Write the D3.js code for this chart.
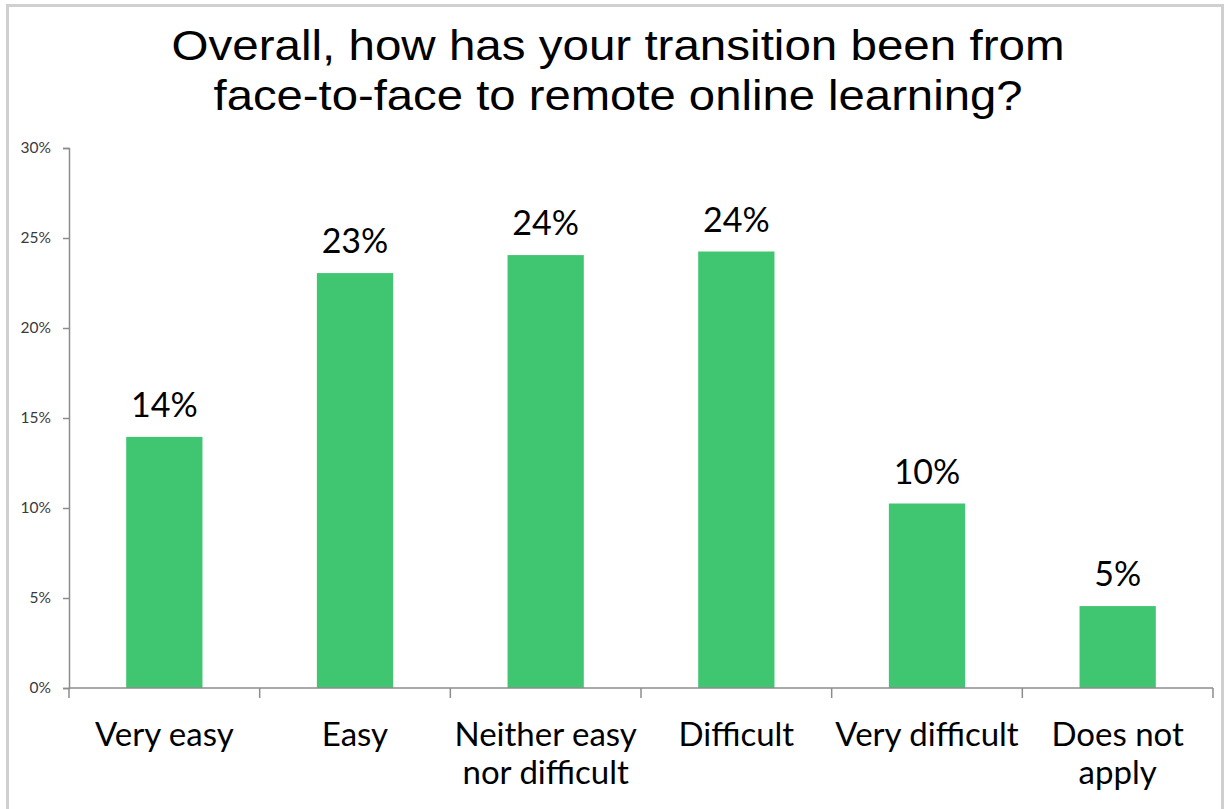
<!DOCTYPE html>
<html>
<head>
<meta charset="utf-8">
<script src="https://cdn.jsdelivr.net/npm/d3@7"></script>
<style>
  html, body { margin: 0; padding: 0; background: #fff; }
  svg { display: block; }
</style>
</head>
<body>
<div id="chart"></div>
<script>
// chart data
const categories = [["Very easy"], ["Easy"], ["Neither easy", "nor difficult"], ["Difficult"], ["Very difficult"], ["Does not", "apply"]];
const values = [13.95, 23.05, 24.05, 24.25, 10.25, 4.55];
const valueLabels = ["14%", "23%", "24%", "24%", "10%", "5%"];
const yTicks = [0, 5, 10, 15, 20, 25, 30];
const titleLines = ["Overall, how has your transition been from", "face-to-face to remote online learning?"];
const titleWidths = [893, 809];

const width = 1225, height = 809;
const margin = { top: 148, right: 12, bottom: 121, left: 69 };

const svg = d3.select("#chart").append("svg")
  .attr("width", width)
  .attr("height", height);

// outer frame
svg.append("rect")
  .attr("x", 7.5).attr("y", 5.5)
  .attr("width", 1215).attr("height", 820)
  .attr("fill", "none")
  .attr("stroke", "#d0d0d0")
  .attr("stroke-width", 3);

svg.append("g")
  .selectAll("text")
  .data(titleLines)
  .join("text")
  .attr("x", 618)
  .attr("y", (d, i) => 60 + i * 50)
  .attr("text-anchor", "middle")
  .attr("font-family", "Liberation Sans, Arial, sans-serif")
  .attr("font-size", 43)
  .attr("textLength", (d, i) => titleWidths[i])
  .attr("lengthAdjust", "spacingAndGlyphs")
  .attr("fill", "#000")
  .text(d => d);

const x = d3.scaleBand()
  .domain(d3.range(categories.length))
  .range([margin.left, width - margin.right])
  .paddingInner(0.6)
  .paddingOuter(0.3);

const y = d3.scaleLinear()
  .domain([0, 30])
  .range([height - margin.bottom, margin.top]);

// y axis
const yAxis = svg.append("g")
  .attr("transform", `translate(${margin.left},0)`)
  .call(d3.axisLeft(y).tickValues(yTicks).tickSize(6).tickPadding(12).tickFormat(d => d + "%"));
yAxis.select(".domain").attr("stroke", "#8c8c8c").attr("stroke-width", 1.5);
yAxis.selectAll(".tick line").attr("stroke", "#8c8c8c").attr("stroke-width", 1.5);
yAxis.selectAll(".tick text")
  .attr("font-family", "Lato, sans-serif")
  .attr("font-size", 15.5)
  .attr("fill", "#3a3a3a");

// bars
svg.append("g")
  .selectAll("rect")
  .data(values)
  .join("rect")
  .attr("x", (d, i) => x(i))
  .attr("y", d => y(d))
  .attr("width", x.bandwidth())
  .attr("height", d => y(0) - y(d))
  .attr("fill", "#40c571");

// value labels
svg.append("g")
  .selectAll("text")
  .data(values)
  .join("text")
  .attr("x", (d, i) => x(i) + x.bandwidth() / 2)
  .attr("y", d => y(d) - 20)
  .attr("text-anchor", "middle")
  .attr("font-family", "Lato, sans-serif")
  .attr("font-size", 34)
  .attr("fill", "#000")
  .text((d, i) => valueLabels[i]);

// x axis with ticks between categories
const xEdges = d3.range(categories.length + 1).map(i => margin.left + i * (width - margin.right - margin.left) / categories.length);
const xAxis = svg.append("g");
xAxis.append("line")
  .attr("x1", margin.left).attr("x2", xEdges[xEdges.length - 1])
  .attr("y1", y(0)).attr("y2", y(0))
  .attr("stroke", "#8c8c8c").attr("stroke-width", 1.5);
xAxis.selectAll(".xtick")
  .data(xEdges)
  .join("line")
  .attr("class", "xtick")
  .attr("x1", d => d).attr("x2", d => d)
  .attr("y1", y(0)).attr("y2", y(0) + 10)
  .attr("stroke", "#8c8c8c").attr("stroke-width", 1.5);

const catText = svg.append("g")
  .selectAll("text")
  .data(categories)
  .join("text")
  .attr("x", (d, i) => x(i) + x.bandwidth() / 2)
  .attr("y", 746)
  .attr("text-anchor", "middle")
  .attr("font-family", "Lato, sans-serif")
  .attr("font-size", 33)
  .attr("fill", "#000");
catText.selectAll("tspan")
  .data(d => d)
  .join("tspan")
  .attr("x", function () { return d3.select(this.parentNode).attr("x"); })
  .attr("dy", (d, i) => i === 0 ? 0 : 38)
  .text(d => d);
</script>
</body>
</html>
